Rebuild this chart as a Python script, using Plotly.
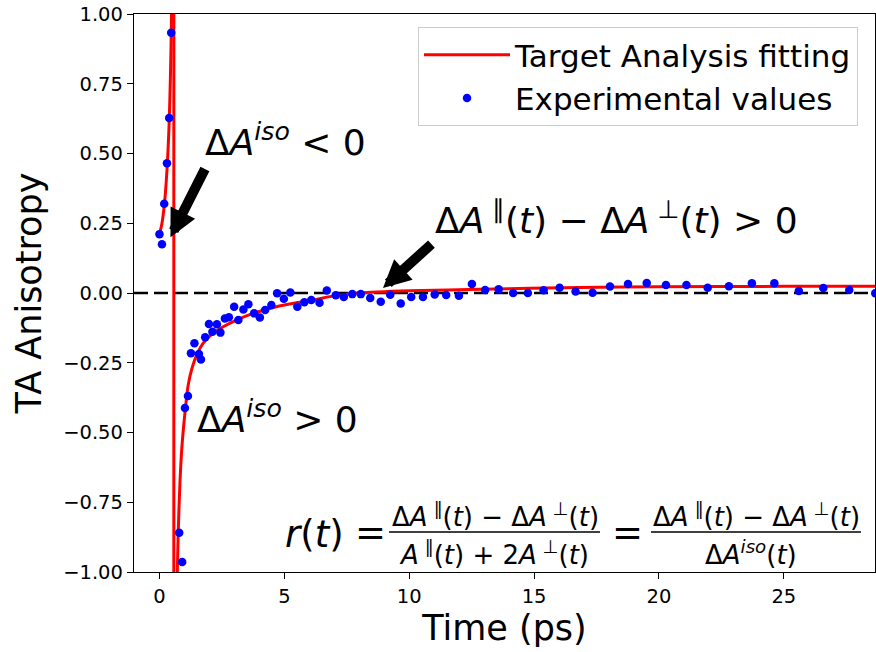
import plotly.graph_objects as go

# ---------------- data ----------------
time_ps = [0.0, 0.10, 0.19, 0.30, 0.39, 0.47, 0.79, 0.91, 1.02, 1.14, 1.26, 1.40,
           1.58, 1.66, 1.83, 1.98, 2.12, 2.30, 2.44, 2.62, 2.78, 2.99, 3.16, 3.36,
           3.56, 3.79, 4.02, 4.23, 4.48, 4.71, 4.98, 5.24, 5.52, 5.80, 6.08, 6.41,
           6.70, 7.06, 7.38, 7.72, 8.06, 8.44, 8.86, 9.24, 9.66, 10.08, 10.55, 11.02,
           11.48, 11.99, 12.51, 13.04, 13.58, 14.16, 14.75, 15.38, 16.02, 16.66, 17.34,
           18.04, 18.76, 19.51, 20.28, 21.10, 21.95, 22.80, 23.72, 24.62, 25.60, 26.58,
           27.62, 28.66]
anisotropy = [0.211, 0.175, 0.320, 0.465, 0.627, 0.933, -0.859, -0.964, -0.412, -0.369,
              -0.216, -0.180, -0.219, -0.238, -0.159, -0.111, -0.139, -0.112, -0.142,
              -0.091, -0.087, -0.049, -0.097, -0.059, -0.040, -0.073, -0.088, -0.061,
              -0.043, -0.001, -0.021, 0.002, -0.049, -0.033, -0.025, -0.035, 0.009,
              -0.008, -0.014, -0.004, -0.004, -0.018, -0.031, -0.006, -0.038, -0.014,
              -0.014, -0.005, -0.007, -0.010, 0.032, 0.011, 0.013, 0.000, 0.000, 0.010,
              0.019, 0.005, 0.001, 0.023, 0.032, 0.036, 0.029, 0.029, 0.019, 0.024,
              0.035, 0.035, 0.007, 0.018, 0.011, -0.001]

# fitted curve (None = break in the drawn line)
fit_time = [0.0, 0.10, 0.20, 0.30, 0.38, 0.44, 0.48, 0.51, 0.54, 0.575, None,
            0.575, 0.575, None,
            0.62, 0.66, 0.70, 0.75, 0.82, 0.90, 1.02, 1.15, 1.30, 1.50, 1.75, 2.15,
            2.55, 3.08, 3.75, 4.68, 5.48, 6.28, 6.82, 8.0, 10.0, 12.8, 16.8, 20.0,
            25.0, 28.7]
fit_value = [0.21, 0.25, 0.32, 0.44, 0.59, 0.78, 0.98, 1.25, 1.8, 3.5, None,
             3.5, -3.5, None,
             -3.5, -1.5, -1.08, -0.86, -0.68, -0.55, -0.43, -0.33, -0.27, -0.22,
             -0.18, -0.144, -0.121, -0.097, -0.073, -0.049, -0.035, -0.023, -0.013,
             0.0, 0.008, 0.013, 0.020, 0.022, 0.024, 0.024]

x_ticks = [0, 5, 10, 15, 20, 25]
y_ticks = [-1.0, -0.75, -0.5, -0.25, 0.0, 0.25, 0.5, 0.75, 1.0]

# ---------------- layout helpers ----------------
W, H = 876, 652
L, R, T, B = 134, 875, 14, 572
def px(x):
    return (x - L) / (R - L)
def py(y):
    return (B - y) / (B - T)

FONT = "DejaVu Sans"

fig = go.Figure()
fig.add_trace(go.Scatter(x=fit_time, y=fit_value, mode="lines",
                         line=dict(color="#ff0000", width=3, shape="spline", smoothing=0.8),
                         connectgaps=False, name="Target Analysis fitting"))
fig.add_trace(go.Scatter(x=time_ps, y=anisotropy, mode="markers",
                         marker=dict(color="#0000ff", size=8.5),
                         name="Experimental values"))

fig.add_shape(type="line", xref="paper", yref="y", x0=0, x1=1, y0=0, y1=0,
              line=dict(color="black", width=2.5, dash="14px,6px"), layer="below")

annos = []
def txt(s, x, y, size, xanchor="left"):
    annos.append(dict(text=s, x=px(x), y=py(y), xref="paper", yref="paper",
                      xanchor=xanchor, yanchor="middle", showarrow=False,
                      font=dict(family=FONT, size=size, color="black")))

txt("Δ<i>A</i><sup><i>iso</i></sup> &lt; 0", 203, 140, 36)
txt("Δ<i>A</i><sup> ∥</sup>(<i>t</i>) − Δ<i>A</i><sup> ⊥</sup>(<i>t</i>) &gt; 0", 433, 218, 36)
txt("Δ<i>A</i><sup><i>iso</i></sup> &gt; 0", 195, 417, 36)

# formula  r(t) = num1/den1 = num2/den2
txt("<i>r</i>(<i>t</i>)", 283, 534, 37)
txt("=", 370, 532, 37, "center")
txt("Δ<i>A</i><sup> ∥</sup>(<i>t</i>) − Δ<i>A</i><sup> ⊥</sup>(<i>t</i>)", 495, 515, 26, "center")
txt("<i>A</i><sup> ∥</sup>(<i>t</i>) + 2<i>A</i><sup> ⊥</sup>(<i>t</i>)", 494, 553, 26, "center")
txt("=", 627, 532, 37, "center")
txt("Δ<i>A</i><sup> ∥</sup>(<i>t</i>) − Δ<i>A</i><sup> ⊥</sup>(<i>t</i>)", 756, 515, 26, "center")
txt("Δ<i>A</i><sup><i>iso</i></sup>(<i>t</i>)", 751, 553, 26, "center")
for (a, b) in [(389, 600), (651, 861)]:
    fig.add_shape(type="line", xref="paper", yref="paper", x0=px(a), x1=px(b),
                  y0=py(532), y1=py(532), line=dict(color="black", width=1.5))

# arrows (tip at x,y ; tail at ax,ay in data units)
for (tx, ty, sx, sy) in [(0.44, 0.20, 1.85, 0.45), (8.95, 0.018, 10.95, 0.18)]:
    annos.append(dict(text="", x=tx, y=ty, ax=sx, ay=sy, xref="x", yref="y",
                      axref="x", ayref="y", showarrow=True, arrowhead=2,
                      arrowwidth=10, arrowsize=0.55, arrowcolor="black"))

fig.update_layout(
    width=W, height=H,
    margin=dict(l=L, r=W - R, t=T, b=H - B),
    paper_bgcolor="white", plot_bgcolor="white",
    font=dict(family=FONT, color="black"),
    showlegend=True,
    legend=dict(x=px(418), y=py(27), xanchor="left", yanchor="top",
                bgcolor="rgba(255,255,255,0.8)", bordercolor="#cccccc", borderwidth=1,
                font=dict(family=FONT, size=31), itemwidth=86),
    annotations=annos,
    xaxis=dict(range=[-1.02, 28.65], tickvals=x_ticks, ticktext=[str(v) for v in x_ticks],
               showgrid=False, zeroline=False, showline=True, mirror=True,
               linecolor="black", linewidth=1.3, ticks="outside", ticklen=6,
               tickwidth=1.3, tickcolor="black", tickfont=dict(family=FONT, size=19.5),
               title=dict(text="Time (ps)", font=dict(family=FONT, size=35), standoff=8)),
    yaxis=dict(range=[-1.0, 1.0], tickvals=y_ticks, tickformat=".2f",
               showgrid=False, zeroline=False, showline=True, mirror=True,
               linecolor="black", linewidth=1.3, ticks="outside", ticklen=6,
               tickwidth=1.3, tickcolor="black", tickfont=dict(family=FONT, size=19.5),
               title=dict(text="TA Anisotropy", font=dict(family=FONT, size=35), standoff=10)),
)

fig.write_html("out.html")
